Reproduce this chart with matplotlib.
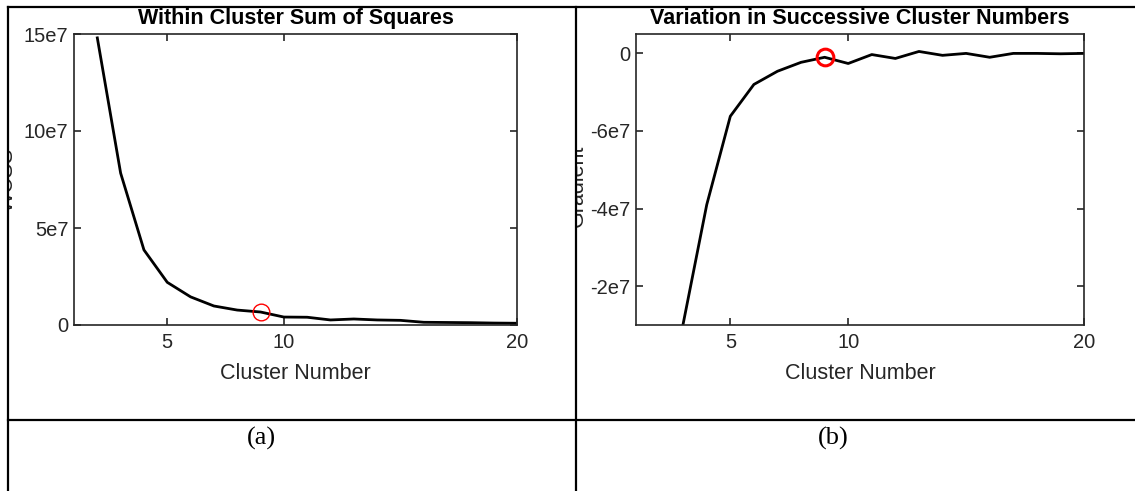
import matplotlib
matplotlib.use("Agg")
import matplotlib.pyplot as plt
from matplotlib.lines import Line2D
from matplotlib.transforms import Bbox, TransformedBbox

plt.rcParams['font.family'] = ['Liberation Sans', 'DejaVu Sans']

# elbow data (k-means)
clusters = [2, 3, 4, 5, 6, 7, 8, 9, 10, 11, 12, 13, 14, 15, 16, 17, 18, 19, 20]
wcss = [14.8e7, 7.83e7, 3.87e7, 2.2e7, 1.45e7, 0.98e7, 0.77e7, 0.67e7, 0.41e7, 0.40e7,
        0.26e7, 0.31e7, 0.26e7, 0.24e7, 0.14e7, 0.13e7, 0.12e7, 0.10e7, 0.09e7]
grad_clusters = [3, 4, 5, 6, 7, 8, 9, 10, 11, 12, 13, 14, 15, 16, 17, 18, 19, 20]
gradient = [-6.97e7, -3.9e7, -1.62e7, -0.80e7, -0.46e7, -0.23e7, -0.10e7, -0.26e7, -0.03e7,
            -0.13e7, 0.05e7, -0.05e7, 0.0, -0.10e7, 0.0, 0.0, -0.01e7, 0.0]
best_k = 9
wcss_ticks = [0, 5e7, 10e7, 15e7]
wcss_labels = ['0', '5e7', '10e7', '15e7']
grad_ticks = [-6e7, -4e7, -2e7, 0]
grad_labels = ['-2e7', '-4e7', '-6e7', '0']
x_ticks = [5, 10, 20]

W, H = 1135, 491
fig = plt.figure(figsize=(W / 100, H / 100), dpi=100)


def fx(p):
    return p / W


def fy(p):
    return 1 - p / H


axc = '#262626'


def style(ax):
    ax.set_xlim(1, 20)
    ax.set_xticks(x_ticks)
    ax.set_xticklabels([str(t) for t in x_ticks])
    ax.tick_params(direction='in', length=5, width=1.2, colors=axc, labelsize=14.5,
                   top=True, right=True, pad=6)
    ax.tick_params(axis='y', pad=4)
    for s in ax.spines.values():
        s.set_color(axc)
        s.set_linewidth(1.2)
    ax.set_xlabel('Cluster Number', fontsize=15.5, color=axc, labelpad=8)


def clip_label(ax, x0):
    lab = ax.yaxis.label
    lab.set_clip_box(TransformedBbox(Bbox.from_extents(fx(x0), 0, 1, 1), fig.transFigure))
    lab.set_clip_on(True)


# (a) within cluster sum of squares
ax1 = fig.add_axes([fx(74), fy(325), fx(517 - 74), (325 - 34) / H])
ax1.plot(clusters, wcss, color='black', lw=2)
ax1.plot([best_k], [wcss[clusters.index(best_k)]], 'o', ms=12, mfc='none', mec='red', mew=1)
ax1.set_ylim(0, 15e7)
ax1.set_yticks(wcss_ticks)
ax1.set_yticklabels(wcss_labels)
style(ax1)
ax1.set_title('Within Cluster Sum of Squares', fontsize=15.5, fontweight='bold', pad=7)
ax1.set_ylabel('WCSS', fontsize=15.5, color=axc)
ax1.yaxis.set_label_coords(-0.126, 0.5)
clip_label(ax1, 9)

# (b) gradient between successive k
ax2 = fig.add_axes([fx(636), fy(325), fx(1084 - 636), (325 - 34) / H])
ax2.plot(grad_clusters, gradient, color='black', lw=2)
ax2.plot([best_k], [gradient[grad_clusters.index(best_k)]], 'o', ms=12, mfc='none',
         mec='red', mew=2.2)
ax2.set_ylim(-7e7, 0.5e7)
ax2.set_yticks(grad_ticks)
ax2.set_yticklabels(grad_labels)
style(ax2)
ax2.set_title('Variation in Successive Cluster Numbers', fontsize=15.5, fontweight='bold', pad=7)
ax2.set_ylabel('Gradient', fontsize=15.5, color=axc)
ax2.yaxis.set_label_coords(-0.108, 0.48)
clip_label(ax2, 577)

# table grid
for xs, ys in [((8, W), (7, 7)), ((8, W), (420, 420)), ((8, 8), (7, H)), ((576, 576), (7, H))]:
    fig.add_artist(Line2D([fx(xs[0]), fx(xs[1])], [fy(ys[0]), fy(ys[1])],
                          transform=fig.transFigure, color='black', lw=1.6))

fig.text(fx(261), fy(438), '(a)', family='Liberation Serif', fontsize=19,
         ha='center', va='center')
fig.text(fx(833), fy(438), '(b)', family='Liberation Serif', fontsize=19,
         ha='center', va='center')

fig.savefig('out.png', dpi=100)
